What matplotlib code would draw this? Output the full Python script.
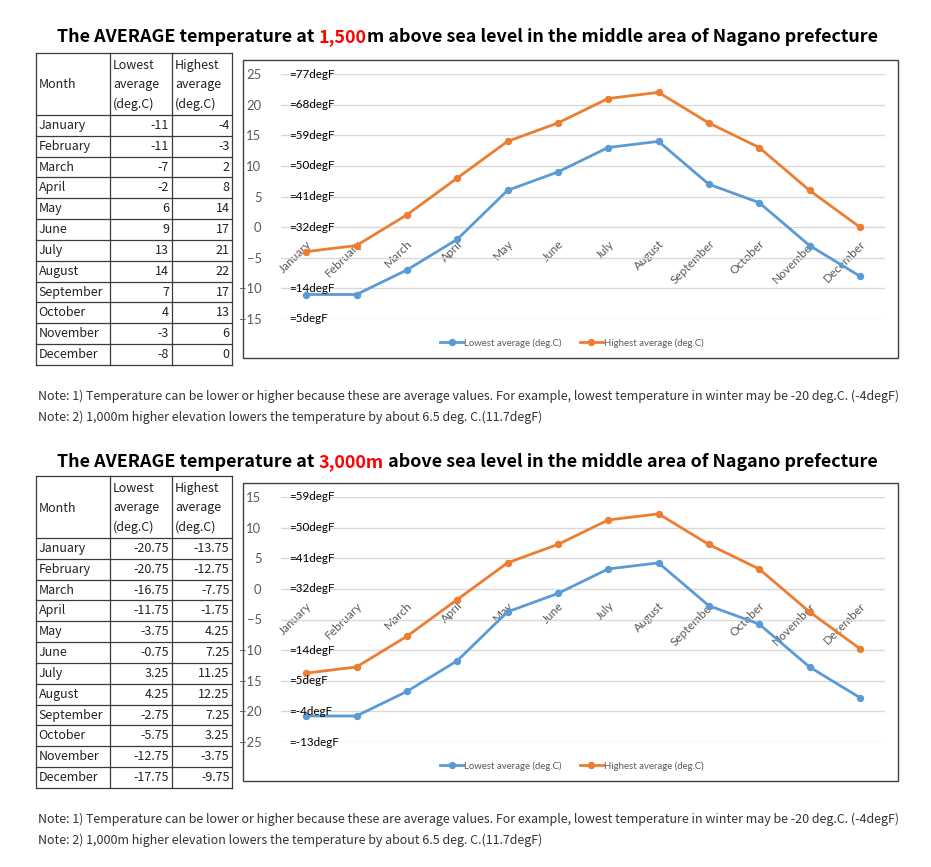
import matplotlib
matplotlib.use("Agg")
import matplotlib.pyplot as plt
from matplotlib.lines import Line2D
from matplotlib.patches import Rectangle

# ---------------- data ----------------
months = ["January", "February", "March", "April", "May", "June", "July",
          "August", "September", "October", "November", "December"]
low_1500 = [-11, -11, -7, -2, 6, 9, 13, 14, 7, 4, -3, -8]
high_1500 = [-4, -3, 2, 8, 14, 17, 21, 22, 17, 13, 6, 0]
low_3000 = [-20.75, -20.75, -16.75, -11.75, -3.75, -0.75, 3.25, 4.25, -2.75, -5.75, -12.75, -17.75]
high_3000 = [-13.75, -12.75, -7.75, -1.75, 4.25, 7.25, 11.25, 12.25, 7.25, 3.25, -3.75, -9.75]
degF_1500 = {25: "=77degF", 20: "=68degF", 15: "=59degF", 10: "=50degF",
             5: "=41degF", 0: "=32degF", -10: "=14degF", -15: "=5degF"}
degF_3000 = {15: "=59degF", 10: "=50degF", 5: "=41degF", 0: "=32degF",
             -10: "=14degF", -15: "=5degF", -20: "=-4degF", -25: "=-13degF"}
header_low = "Lowest\naverage\n(deg.C)"
header_high = "Highest\naverage\n(deg.C)"
legend_low = "Lowest average (deg.C)"
legend_high = "Highest average (deg.C)"
note1 = "Note: 1) Temperature can be lower or higher because these are average values. For example, lowest temperature in winter may be -20 deg.C. (-4degF)"
note2 = "Note: 2) 1,000m higher elevation lowers the temperature by about 6.5 deg. C.(11.7degF)"
title_parts_1 = [("The AVERAGE temperature at ", "black"), ("1,500", "#FF0000"),
                 ("m above sea level in the middle area of Nagano prefecture", "black")]
title_parts_2 = [("The AVERAGE temperature at ", "black"), ("3,000m", "#FF0000"),
                 (" above sea level in the middle area of Nagano prefecture", "black")]

BLUE = "#5B9BD5"
ORANGE = "#ED7D31"
GRAY = "#595959"
W, H = 931, 867

fig = plt.figure(figsize=(W / 100, H / 100), dpi=100)
fig.patch.set_facecolor("white")
base = fig.add_axes([0, 0, 1, 1])
base.set_xlim(0, W)
base.set_ylim(H, 0)
base.axis("off")
base.set_zorder(0)

TFONT = ["Noto Sans CJK JP", "DejaVu Sans"]
CFONT = ["Lato", "DejaVu Sans"]

renderer = fig.canvas.get_renderer()


def draw_title(parts, ycen, xcen=467.5, target=821):
    size = 13.0
    texts = []
    for s, c in parts:
        t = base.text(0, ycen, s, color=c, fontsize=size, fontweight="bold",
                      family=TFONT, va="center", ha="left")
        texts.append(t)
    widths = [t.get_window_extent(renderer).width for t in texts]
    scale = target / sum(widths)
    for t in texts:
        t.set_fontsize(size * scale)
    widths = [t.get_window_extent(renderer).width for t in texts]
    x = xcen - sum(widths) / 2
    for t, w in zip(texts, widths):
        t.set_x(x)
        x += w


def draw_notes(y1, y2, target=868):
    size = 8.4
    t1 = base.text(38, y1, note1, fontsize=size, family=TFONT, va="center",
                   ha="left", color="#333333")
    t2 = base.text(38, y2, note2, fontsize=size, family=TFONT, va="center",
                   ha="left", color="#333333")
    scale = target / t1.get_window_extent(renderer).width
    t1.set_fontsize(size * scale)
    t2.set_fontsize(size * scale)


def draw_table(top, low, high):
    xs = [36, 110, 172, 232]
    hdr_bot = top + 62
    rh = 20.83
    bot = hdr_bot + rh * 12
    lc = "#3a3a3a"
    for x in xs:
        base.plot([x, x], [top, bot], color=lc, lw=0.9, zorder=2)
    base.plot([xs[0], xs[-1]], [top, top], color=lc, lw=0.9)
    base.plot([xs[0], xs[-1]], [hdr_bot, hdr_bot], color=lc, lw=0.9)
    for i in range(12):
        y = hdr_bot + rh * (i + 1)
        base.plot([xs[0], xs[-1]], [y, y], color=lc, lw=0.9)
    fs = 9.0
    base.text(xs[0] + 2.5, top + 32, "Month", fontsize=fs, family=TFONT,
              va="center", ha="left", color="#222222")
    base.text(xs[1] + 3, top + 32, header_low, fontsize=fs, family=TFONT,
              va="center", ha="left", color="#222222", linespacing=1.6)
    base.text(xs[2] + 3, top + 32, header_high, fontsize=fs, family=TFONT,
              va="center", ha="left", color="#222222", linespacing=1.6)
    for i, m in enumerate(months):
        yc = hdr_bot + rh * i + rh / 2
        base.text(xs[0] + 2.5, yc, m, fontsize=fs, family=TFONT, va="center",
                  ha="left", color="#222222")
        base.text(xs[2] - 3, yc, f"{low[i]:g}", fontsize=fs, family=TFONT,
                  va="center", ha="right", color="#222222")
        base.text(xs[3] - 2.5, yc, f"{high[i]:g}", fontsize=fs, family=TFONT,
                  va="center", ha="right", color="#222222")


def draw_chart(box_top, low, high, ymin, ymax, degf):
    base.add_patch(Rectangle((243, box_top), 898 - 243, 298, fill=False,
                             edgecolor="#404040", lw=1.0, zorder=1))
    ptop = box_top + 14
    pbot = ptop + 245
    l, r = 281, 885
    ax = fig.add_axes([l / W, 1 - pbot / H, (r - l) / W, (pbot - ptop) / H])
    ax.set_zorder(2)
    ax.patch.set_alpha(0)
    x = list(range(len(months)))
    ax.plot(x, low, color=BLUE, lw=2.0, marker="o", ms=4.3, zorder=3)
    ax.plot(x, high, color=ORANGE, lw=2.0, marker="o", ms=4.3, zorder=3)
    ax.set_xlim(-0.5, len(months) - 0.5)
    ax.set_ylim(ymin, ymax)
    ax.set_yticks(list(range(ymin, ymax + 1, 5)))
    ax.grid(axis="y", color="#D9D9D9", lw=1.0)
    ax.set_axisbelow(True)
    for s in ax.spines.values():
        s.set_visible(False)
    ax.spines["bottom"].set_position(("data", 0))
    ax.tick_params(axis="y", length=0, pad=14, labelsize=9.4, labelcolor=GRAY)
    for lab in ax.get_yticklabels():
        lab.set_family(CFONT)
    ax.set_xticks(x)
    ax.set_xticklabels(months, rotation=45, ha="right", rotation_mode="anchor",
                       fontsize=8.6, color=GRAY, family=CFONT)
    ax.tick_params(axis="x", length=0, pad=8)
    for v, s in degf.items():
        ax.text(0.014, v, s, transform=ax.get_yaxis_transform(), fontsize=8.4,
                family=CFONT, va="center", ha="left", color="black", zorder=4)
    handles = [Line2D([], [], color=BLUE, lw=2.0, marker="o", ms=4.3),
               Line2D([], [], color=ORANGE, lw=2.0, marker="o", ms=4.3)]
    fig.legend(handles, [legend_low, legend_high], loc="center",
               bbox_to_anchor=(572 / W, 1 - (box_top + 283) / H), ncol=2,
               frameon=False, labelcolor=GRAY, handlelength=2.4,
               handletextpad=0.1, columnspacing=1.9,
               prop={"family": CFONT, "size": 6.9})
    return ax


draw_title(title_parts_1, 37)
draw_table(53, low_1500, high_1500)
draw_chart(60, low_1500, high_1500, -15, 25, degF_1500)
draw_notes(396, 417)

draw_title(title_parts_2, 462)
draw_table(476, low_3000, high_3000)
draw_chart(483, low_3000, high_3000, -25, 15, degF_3000)
draw_notes(819, 840)

fig.savefig("out.png", dpi=100, facecolor="white")
